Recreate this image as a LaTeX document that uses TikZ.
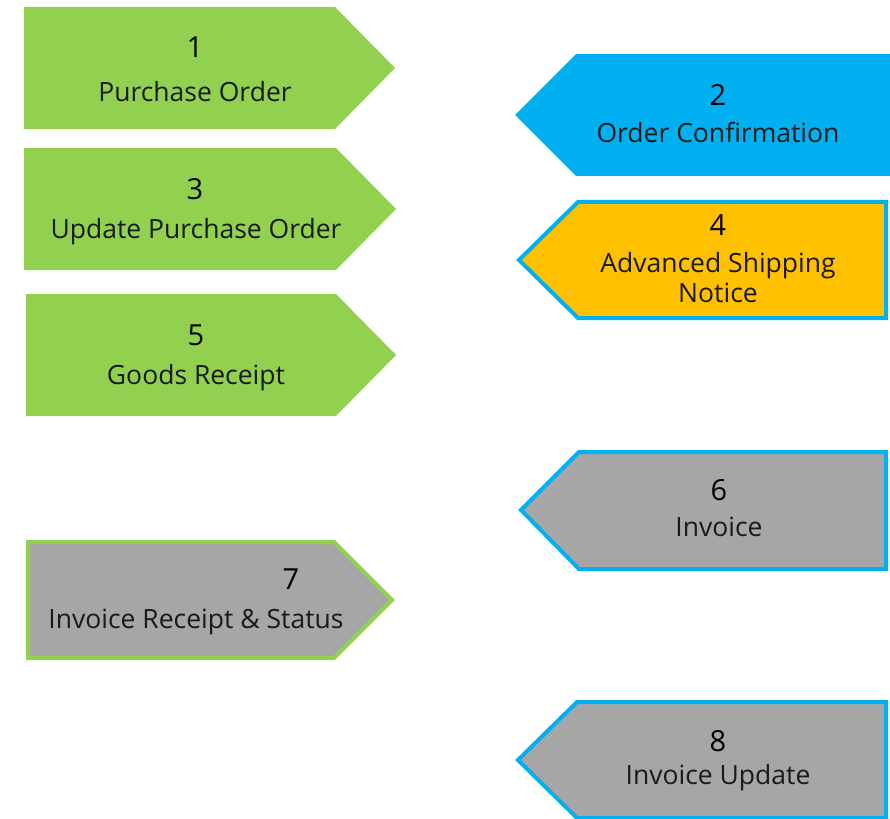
\documentclass[tikz,border=0pt]{standalone}
\usepackage{fontspec}
\setmainfont{Open Sans}
\usepackage{tikz}
\usetikzlibrary{positioning}
\definecolor{ediGreen}{HTML}{92D050}
\definecolor{ediBlue}{HTML}{00B0F0}
\definecolor{ediOrange}{HTML}{FFC000}
\definecolor{ediGray}{HTML}{A6A6A6}
\definecolor{ediText}{HTML}{1A1A1A}

\begin{document}
\begin{tikzpicture}[
      x=1pt, y=-1pt,
      every node/.style={font=\fontsize{26.5}{30}\selectfont, text=ediText,
                         inner sep=0pt, align=center},
      num/.style={font=\fontsize{29}{32}\selectfont, text=black},
      buyer/.style={fill=ediGreen},
      seller/.style={fill=ediBlue},
      framed/.style={line width=4pt, line join=miter},
    ]
      \useasboundingbox (0,0) rectangle (890,818);

      % buyer side, pointing right
      \path[buyer] (24,7) -- (335,7) -- (395,68) -- (335,129) -- (24,129) -- cycle;
      \node[num] (n1) at (195,47) {1};
      \node (po) at (195,92) {Purchase Order};

      \path[buyer] (24,148) -- (336,148) -- (396,209) -- (336,270) -- (24,270) -- cycle;
      \node[num] (n3) at (195,189) {3};
      \node (upo) at (196,232) {Update Purchase Order};

      \path[buyer] (26,294) -- (336,294) -- (396,355) -- (336,416) -- (26,416) -- cycle;
      \node[num] (n5) at (196,335) {5};
      \node (gr) at (196,378) {Goods Receipt};

      \draw[framed, draw=ediGreen, fill=ediGray]
        (28,542) -- (334,542) -- (392,600) -- (334,658) -- (28,658) -- cycle;
      \node[num] (n7) at (291,579) {7};
      \node (irs) at (196,622) {Invoice Receipt \& Status};

      % seller side, pointing left
      \path[seller] (890,54) -- (576,54) -- (515,115) -- (576,176) -- (890,176) -- cycle;
      \node[num] (n2) at (718,95) {2};
      \node (oc) at (718,132) {Order Confirmation};

      \draw[framed, draw=ediBlue, fill=ediOrange]
        (886,202) -- (578,202) -- (519,260) -- (578,318) -- (886,318) -- cycle;
      \node[num] (n4) at (718,225) {4};
      \node (asn) at (718,278) {Advanced Shipping\\Notice};

      \draw[framed, draw=ediBlue, fill=ediGray]
        (886,452) -- (579,452) -- (521,510) -- (579,569) -- (886,569) -- cycle;
      \node[num] (n6) at (719,490) {6};
      \node (inv) at (719,527) {Invoice};

      \draw[framed, draw=ediBlue, fill=ediGray]
        (886,702) -- (577,702) -- (518,760) -- (577,818) -- (886,818) -- cycle;
      \node[num] (n8) at (718,741) {8};
      \node (iu) at (718,778) {Invoice Update};
    \end{tikzpicture}
\end{document}
